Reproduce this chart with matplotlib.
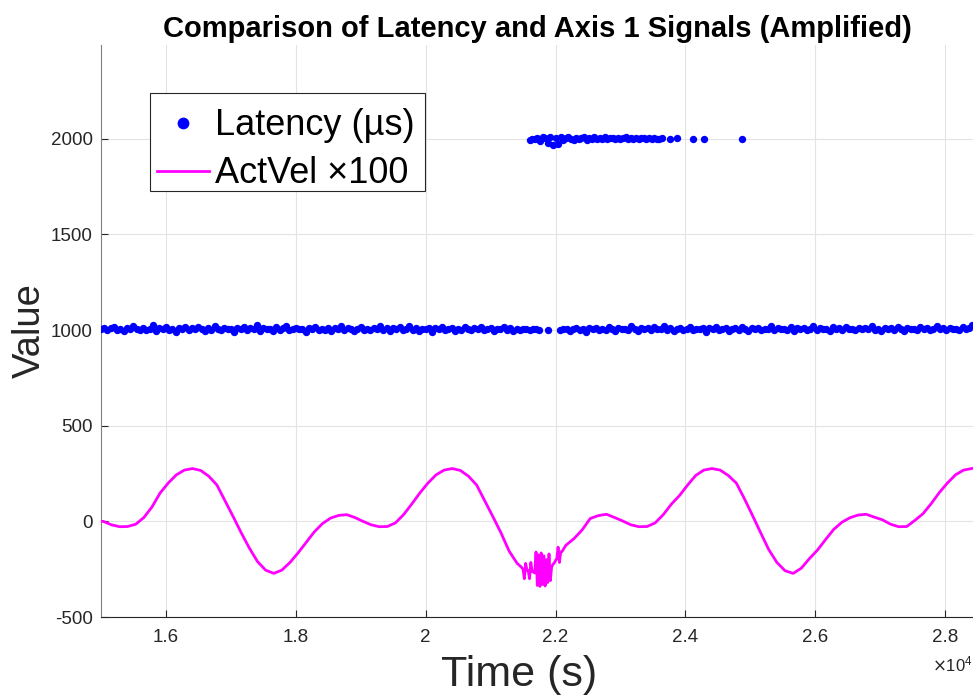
import numpy as np
import matplotlib
matplotlib.use("Agg")
import matplotlib.pyplot as plt
from matplotlib.patches import Rectangle
from matplotlib.ticker import FuncFormatter

plt.rcParams['font.family'] = ['Liberation Sans', 'DejaVu Sans']
plt.rcParams['axes.unicode_minus'] = False

# Latency (us), lower band before the gap: one sample every 50 s from 15000 s
lat_a_start, lat_a_step = 15000, 50
lat_a = [1004, 1012, 998, 1009, 1017, 1001, 1007, 993, 1011, 1003,
         1020, 1006, 999, 1013, 1002, 1008, 1024, 996, 1010, 1005,
         1014, 1000, 1007, 990, 1012, 1004, 1018, 998, 1009, 1003,
         1015, 1006, 995, 1011, 1002, 1021, 1007, 999, 1013, 1004,
         1008, 992, 1010, 1003, 1016, 1000, 1009, 1005, 1026, 997,
         1011, 1004, 1007, 994, 1014, 1001, 1009, 1019, 998, 1006,
         1012, 1003, 1008, 988, 1010, 1005, 1017, 999, 1007, 1002,
         1013, 996, 1009, 1004, 1022, 1000, 1011, 1006, 993, 1008,
         1015, 1002, 1007, 998, 1012, 1005, 1019, 1001, 1009, 995,
         1010, 1004, 1016, 999, 1006, 1023, 1002, 1011, 997, 1008,
         1005, 1013, 991, 1009, 1003, 1017, 1000, 1007, 1012, 996,
         1008, 1002, 1014, 1005, 999, 1010, 1004, 1018, 1001, 1006,
         1011, 997, 1008, 1003, 1015, 1000, 1009, 994, 1006, 1002,
         1004, 1008, 999, 1003, 1006, 1001]
lat_lone_t = [21892]
lat_lone_v = [1000]

# Latency, lower band after the gap: every 50 s from 22070 s
lat_b_start, lat_b_step = 22070, 50
lat_b = [998, 1003, 1008, 994, 1006, 1011, 1000, 1005, 990, 1009,
         1004, 1013, 999, 1007, 1002, 1016, 1005, 996, 1010, 1003,
         1008, 1001, 1019, 1006, 993, 1011, 1004, 1009, 998, 1014,
         1003, 1007, 1021, 1000, 1010, 995, 1005, 1012, 1002, 1008,
         1017, 999, 1006, 1004, 1011, 992, 1009, 1003, 1015, 1001,
         1007, 1012, 997, 1005, 1010, 1002, 1018, 1006, 994, 1009,
         1004, 1013, 1000, 1008, 1003, 1020, 998, 1011, 1005, 1007,
         1002, 1015, 996, 1009, 1004, 1012, 1001, 1006, 1023, 999,
         1010, 1003, 1008, 993, 1014, 1005, 1009, 1001, 1016, 1004,
         1007, 998, 1012, 1003, 1010, 1006, 1019, 1000, 1008, 995,
         1011, 1004, 1009, 1002, 1017, 1005, 997, 1013, 1003, 1008,
         1001, 1014, 1006, 1010, 999, 1007, 1021, 1004, 1009, 1002,
         1012, 1005, 1008, 1000, 1015, 1006, 1011, 1024]

# Latency, upper cluster near 2000: every 40 s from 21600 s, then a few stragglers
lat_c_start, lat_c_step = 21600, 40
lat_c = [1994, 2001, 1997, 2006, 1990, 2009, 2003, 1980, 2011, 1968,
         2004, 1975, 2008, 1996, 2002, 2010, 2001, 1992, 2006, 1998,
         2003, 2009, 1995, 2004, 2000, 2007, 1997, 2005, 2001, 2008,
         1998, 2003, 2006, 2000, 2004, 1997, 2002, 2007, 1999, 2003,
         2001, 2005, 1998, 2002, 2004, 2000, 2003, 1999, 2002, 2000,
         2001, 2003]
lat_sparse_t = [23770, 23877, 24123, 24292, 24877]
lat_sparse_v = [2000, 2004, 2000, 2000, 2000]

# ActVel x100: smooth part before the disturbance (every 125 s from 15035 s)
vel_a_start, vel_a_step = 15035, 125
vel_a = [0, -18, -28, -27, -15, 20, 75, 148, 200, 243,
         268, 276, 266, 236, 190, 108, 25, -60, -140, -210,
         -255, -272, -255, -215, -165, -110, -55, -12, 17, 31,
         35, 20, 0, -18, -28, -27, -8, 35, 90, 148,
         200, 243, 268, 276, 266, 236, 190, 108, 25, -60,
         -155, -220]
# disturbed part (every 20 s from 21460 s)
vel_b_start, vel_b_step = 21460, 20
vel_b = [-235, -242, -250, -300, -220, -255, -258, -300, -215, -262,
         -265, -270, -160, -335, -175, -340, -165, -330, -180, -338,
         -200, -320, -170, -310, -240, -225, -218, -205, -195, -135,
         -215, -160, -158]
# smooth part after the disturbance (every 125 s from 22160 s)
vel_c_start, vel_c_step = 22160, 125
vel_c = [-125, -90, -45, 15, 30, 37, 20, 2, -18, -28,
         -27, -8, 35, 90, 135, 190, 240, 268, 276, 268,
         240, 200, 118, 30, -60, -148, -215, -258, -272, -245,
         -195, -150, -95, -42, -5, 19, 33, 37, 22, 8,
         -15, -28, -27, 5, 40, 92, 150, 200, 243, 268,
         276]

x_ticks = [16000, 18000, 20000, 22000, 24000, 26000, 28000]
y_ticks = [-500, 0, 500, 1000, 1500, 2000]


def sample_times(start, step, values):
    return list(start + step * np.arange(len(values)))


lat_t = (sample_times(lat_a_start, lat_a_step, lat_a) + lat_lone_t
         + sample_times(lat_b_start, lat_b_step, lat_b)
         + sample_times(lat_c_start, lat_c_step, lat_c) + lat_sparse_t)
lat_v = lat_a + lat_lone_v + lat_b + lat_c + lat_sparse_v

vel_t = ([15000] + sample_times(vel_a_start, vel_a_step, vel_a)
         + sample_times(vel_b_start, vel_b_step, vel_b)
         + sample_times(vel_c_start, vel_c_step, vel_c))
vel_v = [0] + vel_a + vel_b + vel_c

fig = plt.figure(figsize=(9.73, 6.96), dpi=100)
ax = fig.add_axes([101 / 973, 79 / 696, 872 / 973, 572 / 696])

ax.plot(lat_t, lat_v, 'o', color='#0000ff', markersize=5.3, markeredgewidth=0,
        label='Latency (µs)', zorder=3)
ax.plot(vel_t, vel_v, '-', color='#ff00ff', linewidth=2, label='ActVel ×100', zorder=3)

ax.set_xlim(15000, 28430)
ax.set_ylim(-500, 2490)
ax.set_xticks(x_ticks)
ax.set_yticks(y_ticks)
ax.xaxis.set_major_formatter(FuncFormatter(lambda v, p: f"{v / 1e4:g}"))
ax.yaxis.set_major_formatter(FuncFormatter(lambda v, p: f"{int(v)}"))
ax.tick_params(direction='in', length=5, width=0.8, colors='#262626', labelsize=13.5)
ax.tick_params(axis='y', pad=6)
ax.tick_params(axis='x', pad=9)

ax.grid(True, color='#e3e3e3', linewidth=0.8)
ax.set_axisbelow(True)
for side in ['top', 'right']:
    ax.spines[side].set_visible(False)
ax.spines['left'].set_color('#808080')
ax.spines['bottom'].set_color('#262626')

ax.set_title('Comparison of Latency and Axis 1 Signals (Amplified)',
             fontsize=21, fontweight='bold', pad=6)
ax.set_xlabel('Time (s)', fontsize=31, color='#262626')
ax.xaxis.set_label_coords(0.48, -0.066, transform=ax.transAxes)
ax.xaxis.label.set_va('top')
ax.set_ylabel('Value', fontsize=27.5, color='#262626', labelpad=2)
ax.text(1.0, -0.066, r'$\times\mathregular{10^{4}}$', transform=ax.transAxes,
        ha='right', va='top', fontsize=12, color='#262626')

# legend box drawn separately so the entries can sit a bit lower inside it, as in MATLAB
ax.add_patch(Rectangle((0.0562, 0.7448), 0.3154, 0.1713, transform=ax.transAxes,
                       facecolor='white', edgecolor='#262626', linewidth=0.8, zorder=4.5))
leg = ax.legend(loc='upper left', bbox_to_anchor=(0.056, 0.902), borderaxespad=0,
                fontsize=26, handlelength=1.45, handletextpad=0.15, labelspacing=0.36,
                borderpad=0.2, frameon=False, markerscale=1.6)

fig.savefig('out.png', dpi=100)
